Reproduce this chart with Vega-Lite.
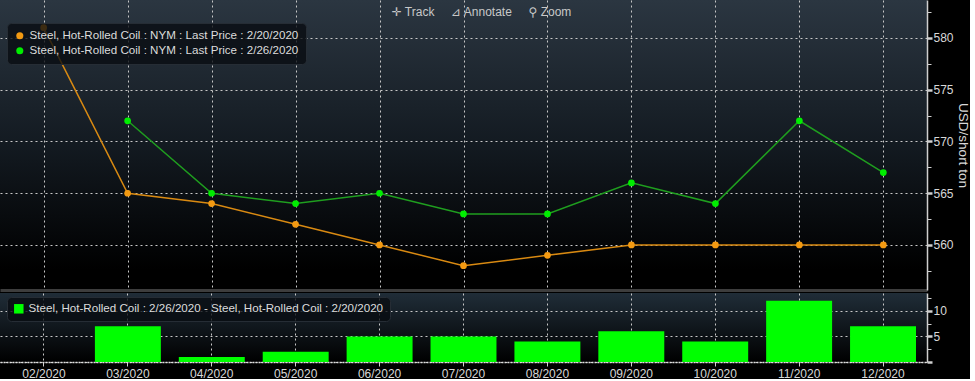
{
  "$schema": "https://vega.github.io/schema/vega-lite/v6.json",
  "background": "#000000",
  "padding": 0,
  "spacing": 3,
  "config": {
    "font": "Liberation Sans",
    "view": {"stroke": null},
    "axis": {
      "labelColor": "#d8d8d8",
      "labelFontSize": 12,
      "labelFont": "Liberation Sans",
      "gridColor": "#c8c8c8",
      "gridDash": [2, 3],
      "gridWidth": 1,
      "domainColor": "#cfcfcf",
      "tickColor": "#cfcfcf",
      "titleColor": "#d8d8d8",
      "titleFontWeight": "normal"
    },
    "legend": {
      "orient": "none",
      "title": null,
      "fillColor": "rgba(8,12,17,0.78)",
      "strokeColor": "#262d35",
      "cornerRadius": 4,
      "padding": 7,
      "labelColor": "#dcdcdc",
      "labelFontSize": 11.6,
      "labelFont": "Liberation Sans",
      "rowPadding": 2,
      "symbolSize": 50,
      "labelLimit": 500
    }
  },
  "datasets": {
    "prices": [
      {"month": "02/2020", "series": "Steel, Hot-Rolled Coil : NYM : Last Price : 2/20/2020", "price": 581},
      {"month": "03/2020", "series": "Steel, Hot-Rolled Coil : NYM : Last Price : 2/20/2020", "price": 565},
      {"month": "04/2020", "series": "Steel, Hot-Rolled Coil : NYM : Last Price : 2/20/2020", "price": 564},
      {"month": "05/2020", "series": "Steel, Hot-Rolled Coil : NYM : Last Price : 2/20/2020", "price": 562},
      {"month": "06/2020", "series": "Steel, Hot-Rolled Coil : NYM : Last Price : 2/20/2020", "price": 560},
      {"month": "07/2020", "series": "Steel, Hot-Rolled Coil : NYM : Last Price : 2/20/2020", "price": 558},
      {"month": "08/2020", "series": "Steel, Hot-Rolled Coil : NYM : Last Price : 2/20/2020", "price": 559},
      {"month": "09/2020", "series": "Steel, Hot-Rolled Coil : NYM : Last Price : 2/20/2020", "price": 560},
      {"month": "10/2020", "series": "Steel, Hot-Rolled Coil : NYM : Last Price : 2/20/2020", "price": 560},
      {"month": "11/2020", "series": "Steel, Hot-Rolled Coil : NYM : Last Price : 2/20/2020", "price": 560},
      {"month": "12/2020", "series": "Steel, Hot-Rolled Coil : NYM : Last Price : 2/20/2020", "price": 560},
      {"month": "03/2020", "series": "Steel, Hot-Rolled Coil : NYM : Last Price : 2/26/2020", "price": 572},
      {"month": "04/2020", "series": "Steel, Hot-Rolled Coil : NYM : Last Price : 2/26/2020", "price": 565},
      {"month": "05/2020", "series": "Steel, Hot-Rolled Coil : NYM : Last Price : 2/26/2020", "price": 564},
      {"month": "06/2020", "series": "Steel, Hot-Rolled Coil : NYM : Last Price : 2/26/2020", "price": 565},
      {"month": "07/2020", "series": "Steel, Hot-Rolled Coil : NYM : Last Price : 2/26/2020", "price": 563},
      {"month": "08/2020", "series": "Steel, Hot-Rolled Coil : NYM : Last Price : 2/26/2020", "price": 563},
      {"month": "09/2020", "series": "Steel, Hot-Rolled Coil : NYM : Last Price : 2/26/2020", "price": 566},
      {"month": "10/2020", "series": "Steel, Hot-Rolled Coil : NYM : Last Price : 2/26/2020", "price": 564},
      {"month": "11/2020", "series": "Steel, Hot-Rolled Coil : NYM : Last Price : 2/26/2020", "price": 572},
      {"month": "12/2020", "series": "Steel, Hot-Rolled Coil : NYM : Last Price : 2/26/2020", "price": 567}
    ],
    "diff": [
      {"month": "03/2020", "series": "Steel, Hot-Rolled Coil : 2/26/2020 - Steel, Hot-Rolled Coil : 2/20/2020", "diff": 7},
      {"month": "04/2020", "series": "Steel, Hot-Rolled Coil : 2/26/2020 - Steel, Hot-Rolled Coil : 2/20/2020", "diff": 1},
      {"month": "05/2020", "series": "Steel, Hot-Rolled Coil : 2/26/2020 - Steel, Hot-Rolled Coil : 2/20/2020", "diff": 2},
      {"month": "06/2020", "series": "Steel, Hot-Rolled Coil : 2/26/2020 - Steel, Hot-Rolled Coil : 2/20/2020", "diff": 5},
      {"month": "07/2020", "series": "Steel, Hot-Rolled Coil : 2/26/2020 - Steel, Hot-Rolled Coil : 2/20/2020", "diff": 5},
      {"month": "08/2020", "series": "Steel, Hot-Rolled Coil : 2/26/2020 - Steel, Hot-Rolled Coil : 2/20/2020", "diff": 4},
      {"month": "09/2020", "series": "Steel, Hot-Rolled Coil : 2/26/2020 - Steel, Hot-Rolled Coil : 2/20/2020", "diff": 6},
      {"month": "10/2020", "series": "Steel, Hot-Rolled Coil : 2/26/2020 - Steel, Hot-Rolled Coil : 2/20/2020", "diff": 4},
      {"month": "11/2020", "series": "Steel, Hot-Rolled Coil : 2/26/2020 - Steel, Hot-Rolled Coil : 2/20/2020", "diff": 12},
      {"month": "12/2020", "series": "Steel, Hot-Rolled Coil : 2/26/2020 - Steel, Hot-Rolled Coil : 2/20/2020", "diff": 7}
    ],
    "toolbar": [
      {"month": "07/2020", "price": 582.5, "label": "✛ Track\u00a0\u00a0\u00a0\u00a0\u00a0⊿ Annotate\u00a0\u00a0\u00a0\u00a0\u00a0⚲ Zoom"}
    ]
  },
  "resolve": {
    "scale": {"x": "independent", "y": "independent", "color": "independent", "stroke": "independent"},
    "legend": {"color": "independent"}
  },
  "vconcat": [
    {
      "width": 927,
      "height": 290,
      "view": {
        "stroke": null,
        "fill": {
          "gradient": "linear", "x1": 0, "y1": 0, "x2": 0, "y2": 1,
          "stops": [
            {"offset": 0, "color": "#2b3641"},
            {"offset": 0.5, "color": "#131a21"},
            {"offset": 0.93, "color": "#000000"},
            {"offset": 1, "color": "#000000"}
          ]
        }
      },
      "encoding": {
        "x": {
          "field": "month", "type": "ordinal",
          "scale": {"type": "point", "padding": 0.52,
            "domain": ["02/2020", "03/2020", "04/2020", "05/2020", "06/2020", "07/2020", "08/2020", "09/2020", "10/2020", "11/2020", "12/2020"]},
          "axis": {"orient": "bottom", "title": null, "labels": false, "ticks": false, "grid": true,
            "domainColor": "#3d3d3d", "domainWidth": 3, "minExtent": 0, "maxExtent": 2}
        },
        "y": {
          "field": "price", "type": "quantitative",
          "scale": {"domain": [555.65, 583.67], "nice": false, "zero": false},
          "axis": {
            "orient": "right", "title": "USD/short ton", "titleFontSize": 13.5, "titlePadding": 2,
            "values": [557.5, 560, 562.5, 565, 567.5, 570, 572.5, 575, 577.5, 580, 582.5],
            "labelExpr": "datum.value % 5 === 0 ? format(datum.value, 'd') : ''",
            "labelPadding": 1,
            "tickSize": {"condition": {"test": "datum.value % 5 === 0", "value": 5}, "value": 4},
            "tickWidth": {"condition": {"test": "datum.value % 5 === 0", "value": 2.5}, "value": 1},
            "gridOpacity": {"condition": {"test": "datum.value % 5 === 0", "value": 1}, "value": 0},
            "domainWidth": 1.5
          }
        }
      },
      "layer": [
        {
          "data": {"name": "prices"},
          "mark": {"type": "line", "strokeWidth": 1.5},
          "encoding": {
            "stroke": {"field": "series", "type": "nominal",
              "scale": {"range": ["#d98a12", "#1f9e1f"]}, "legend": null}
          }
        },
        {
          "data": {"name": "prices"},
          "mark": {"type": "point", "filled": true, "size": 45, "opacity": 1},
          "encoding": {
            "color": {"field": "series", "type": "nominal",
              "scale": {"range": ["#f39a12", "#00ee00"]},
              "legend": {"legendX": 7, "legendY": 23, "symbolType": "circle"}}
          }
        },
        {
          "data": {"name": "toolbar"},
          "mark": {"type": "text", "dx": 18, "fontSize": 12, "color": "#c8c8c8", "font": "Liberation Sans, DejaVu Sans"},
          "encoding": {"text": {"field": "label"}}
        }
      ]
    },
    {
      "width": 927,
      "height": 69,
      "view": {
        "stroke": null,
        "fill": {
          "gradient": "linear", "x1": 0, "y1": 0, "x2": 0, "y2": 1,
          "stops": [
            {"offset": 0, "color": "#202d38"},
            {"offset": 1, "color": "#000000"}
          ]
        }
      },
      "data": {"name": "diff"},
      "mark": {"type": "bar"},
      "encoding": {
        "x": {
          "field": "month", "type": "ordinal",
          "scale": {"type": "band", "paddingInner": 0.214, "paddingOuter": 0.131,
            "domain": ["02/2020", "03/2020", "04/2020", "05/2020", "06/2020", "07/2020", "08/2020", "09/2020", "10/2020", "11/2020", "12/2020"]},
          "axis": {"title": null, "labelAngle": 0, "grid": true, "bandPosition": 0.5, "tickSize": 4,
            "labelPadding": 2, "domainColor": "#e0e0e0", "domainDash": [2, 1], "domainWidth": 1.5}
        },
        "y": {
          "field": "diff", "type": "quantitative",
          "scale": {"domain": [0, 13.5], "nice": false},
          "axis": {
            "orient": "right", "title": null,
            "values": [0, 2.5, 5, 7.5, 10, 12.5],
            "labelExpr": "datum.value > 0 && datum.value % 5 === 0 ? format(datum.value, 'd') : ''",
            "labelPadding": 1,
            "tickSize": {"condition": {"test": "datum.value % 5 === 0", "value": 5}, "value": 4},
            "tickWidth": {"condition": {"test": "datum.value % 5 === 0", "value": 2.5}, "value": 1},
            "gridOpacity": {"condition": {"test": "datum.value % 5 === 0", "value": 1}, "value": 0},
            "domainWidth": 1.5
          }
        },
        "color": {"field": "series", "type": "nominal",
          "scale": {"range": ["#00ff00"]},
          "legend": {"legendX": 7, "legendY": 4, "symbolType": "square", "symbolSize": 90, "padding": 6}}
      }
    }
  ]
}
